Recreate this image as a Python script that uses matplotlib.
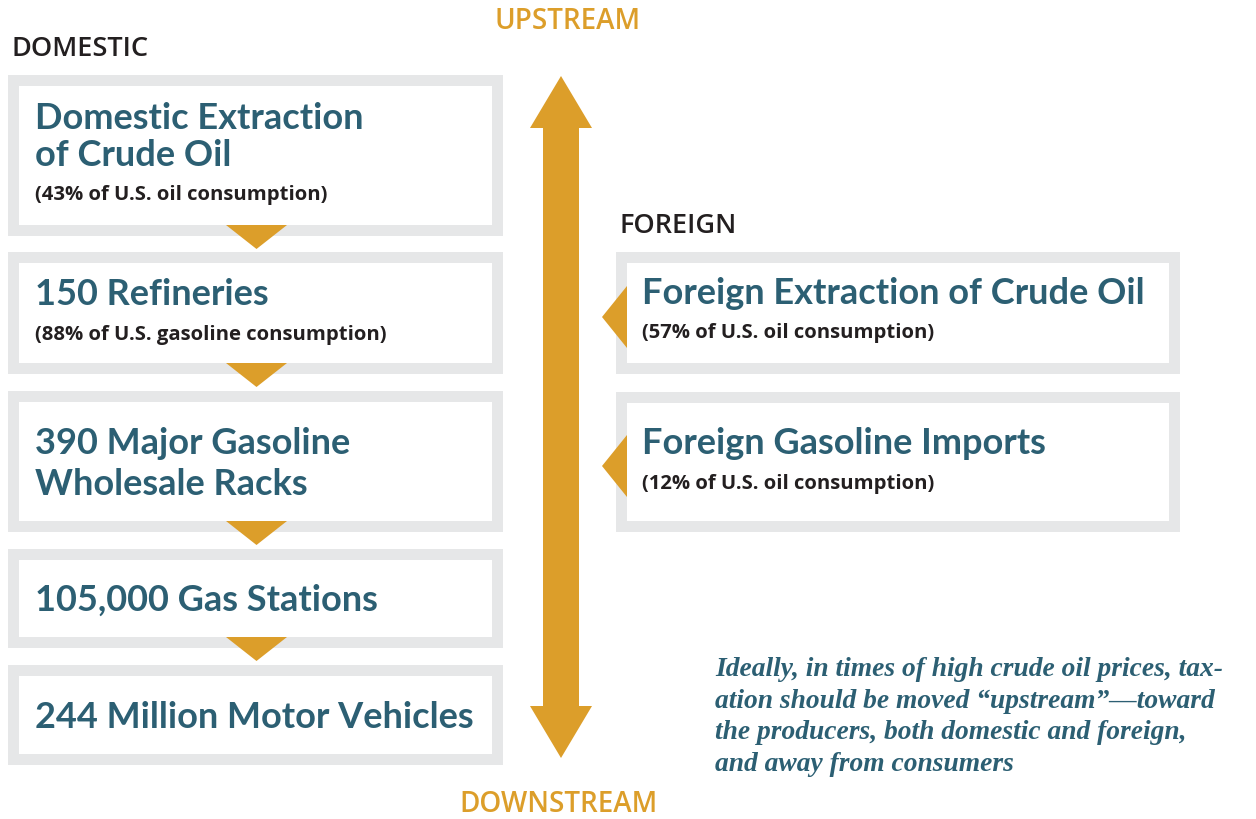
import matplotlib
matplotlib.use("Agg")
import matplotlib.pyplot as plt
from matplotlib.patches import Rectangle, Polygon

# text content
domestic_titles = [
    ["Domestic Extraction", "of Crude Oil"],
    ["150 Refineries"],
    ["390 Major Gasoline", "Wholesale Racks"],
    ["105,000 Gas Stations"],
    ["244 Million Motor Vehicles"],
]
domestic_notes = [
    "(43% of U.S. oil consumption)",
    "(88% of U.S. gasoline consumption)",
    None,
    None,
    None,
]
foreign_titles = ["Foreign Extraction of Crude Oil", "Foreign Gasoline Imports"]
foreign_notes = ["(57% of U.S. oil consumption)", "(12% of U.S. oil consumption)"]
note_lines = [
    "Ideally, in times of high crude oil prices, tax-",
    "ation should be moved \u201cupstream\u201d\u2014toward",
    "the producers, both domestic and foreign,",
    "and away from consumers",
]

# layout (pixels, y down)
dom_boxes = [(75, 236), (252, 374), (391, 532), (549, 648), (665, 765)]
dom_title_base = [[129, 166], [305], [454, 495], [611], [728]]
dom_note_base = [200, 340, None, None, None]
for_boxes = [(252, 374), (392, 532)]
for_title_base = [304, 454]
for_note_base = [338, 489]

TEAL = "#2c5f73"
GOLD = "#dc9e2a"
GRAY = "#e6e7e8"
DARK = "#231f20"
BW = 11
SANS = "Lato"
SANS2 = "Open Sans"

fig = plt.figure(figsize=(12.56, 8.19), dpi=100)
ax = fig.add_axes([0, 0, 1, 1])
ax.set_xlim(0, 1256)
ax.set_ylim(819, 0)
ax.axis("off")


def box(x0, x1, y0, y1):
    ax.add_patch(Rectangle((x0, y0), x1 - x0, y1 - y0, fc=GRAY, ec="none"))
    ax.add_patch(Rectangle((x0 + BW, y0 + BW), x1 - x0 - 2 * BW, y1 - y0 - 2 * BW,
                           fc="white", ec="none"))


# domestic column
for i, (y0, y1) in enumerate(dom_boxes):
    box(8, 503, y0, y1)
    for line, yb in zip(domestic_titles[i], dom_title_base[i]):
        ax.text(35, yb, line, color=TEAL, fontsize=26, fontweight="bold",
                family=SANS, va="baseline", ha="left")
    if domestic_notes[i]:
        ax.text(35, dom_note_base[i], domestic_notes[i], color=DARK, fontsize=14.6,
                fontweight="bold", family=SANS2, va="baseline", ha="left")
    if i < len(dom_boxes) - 1:
        top = y1 - BW
        ax.add_patch(Polygon([(226, top), (287, top), (256.5, top + 24)],
                             closed=True, fc=GOLD, ec="none"))

# foreign column
for i, (y0, y1) in enumerate(for_boxes):
    box(616, 1180, y0, y1)
    ax.text(642, for_title_base[i], foreign_titles[i], color=TEAL, fontsize=26,
            fontweight="bold", family=SANS, va="baseline", ha="left")
    ax.text(642, for_note_base[i], foreign_notes[i], color=DARK, fontsize=14.6,
            fontweight="bold", family=SANS2, va="baseline", ha="left")
    mid = (y0 + y1) / 2 + 4
    ax.add_patch(Polygon([(627, mid - 31), (627, mid + 31), (602, mid)],
                         closed=True, fc=GOLD, ec="none"))

# headings
ax.text(12, 56, "DOMESTIC", color=DARK, fontsize=19.5, fontweight="semibold",
        family=SANS2, va="baseline", ha="left")
ax.text(620, 233, "FOREIGN", color=DARK, fontsize=19.5, fontweight="semibold",
        family=SANS2, va="baseline", ha="left")
ax.text(568, 29, "UPSTREAM", color=GOLD, fontsize=20, fontweight="semibold",
        family=SANS2, va="baseline", ha="center")
ax.text(558, 812, "DOWNSTREAM", color=GOLD, fontsize=20, fontweight="semibold",
        family=SANS2, va="baseline", ha="center")

# double-headed arrow
cx = 561
ax.add_patch(Polygon([
    (cx, 76), (cx + 31, 128), (cx + 18, 128), (cx + 18, 706), (cx + 31, 706),
    (cx, 758), (cx - 31, 706), (cx - 18, 706), (cx - 18, 128), (cx - 31, 128),
], closed=True, fc=GOLD, ec="none"))

# italic note
for k, line in enumerate(note_lines):
    ax.text(715, 676 + k * 31.7, line, color=TEAL, fontsize=19.8, fontweight="bold",
            fontstyle="italic", family="Liberation Serif", va="baseline", ha="left")

fig.savefig("out.png", dpi=100)
